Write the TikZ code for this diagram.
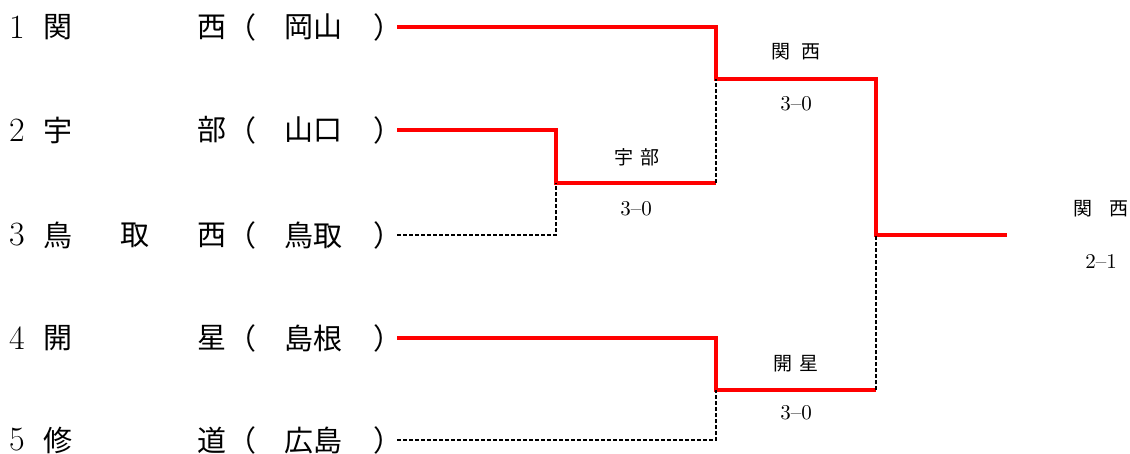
\documentclass[tikz,border=0pt]{standalone}
\usepackage{fontspec}
\newfontfamily\jp{Noto Sans CJK JP}
\usepackage{tikz}

\begin{document}
\begin{tikzpicture}[x=0.5pt,y=-0.5pt,
    txt/.style={inner sep=0pt,font=\jp\fontsize{14.5}{16}\selectfont},
    num/.style={inner sep=0pt,font=\fontsize{17}{20}\selectfont},
    res/.style={inner sep=0pt,font=\jp\fontsize{9.5}{11}\selectfont},
    score/.style={inner sep=0pt,font=\fontsize{10.5}{12}\selectfont},
    win/.style={draw=red,line width=1.8pt},
    lose/.style={draw=black,line width=0.7pt,dash pattern=on 2pt off 1pt}]
        \useasboundingbox (0,0) rectangle (1130,454);
        \foreach \n/\y/\a/\b/\c/\p in{
        1/27/関//西/岡山,
        2/130/宇//部/山口,
        3/235/鳥/取/西/鳥取,
        4/338/開//星/島根,
        5/440/修//道/広島
        }
        {
            \node[num] (n\n) at (17,\y) {\n};
            \node[txt] (a\n) at (58,\y) {\a};
            \node[txt] (b\n) at (135,\y) {\b};
            \node[txt] (c\n) at (212,\y) {\c};
            \node[txt] (l\n) at (242,\y) {（};
            \node[txt] (p\n) at (313,\y) {\p};
            \node[txt] (r\n) at (388,\y) {）};
            \coordinate (e\n) at (397,\y);
        }
        \coordinate (w23) at (556,183);
        \coordinate (w123) at (716,79);
        \coordinate (w45) at (716,390);
        \coordinate (w) at (876,235);
        \coordinate (champ) at (1007,235);
        \node[res] (k23) at (637,157) {宇\hspace{0.35em}部};
        \node[score] (s23) at (636,209) {3\textendash0};
        \node[res] (k123) at (796,52) {関\hspace{0.6em}西};
        \node[score] (s123) at (796,104) {3\textendash0};
        \node[res] (k45) at (796,364) {開\hspace{0.35em}星};
        \node[score] (s45) at (796,413) {3\textendash0};
        \node[res] (k) at (1101,209) {関\hspace{0.9em}西};
        \node[score] (s) at (1101,262) {2\textendash1};
        \draw[win] (e1) -| (w123) -| (w) -- (champ);
        \draw[win] (e2) -| (w23) -- (w23 -| w123);
        \draw[win] (e4) -| (w45) -- (w45 -| w);
        \draw[lose] (e3) -| (w23);
        \draw[lose] (w23 -| w123) -- (w123);
        \draw[lose] (e5) -| (w45);
        \draw[lose] (w45 -| w) -- (w);
    \end{tikzpicture}
\end{document}
